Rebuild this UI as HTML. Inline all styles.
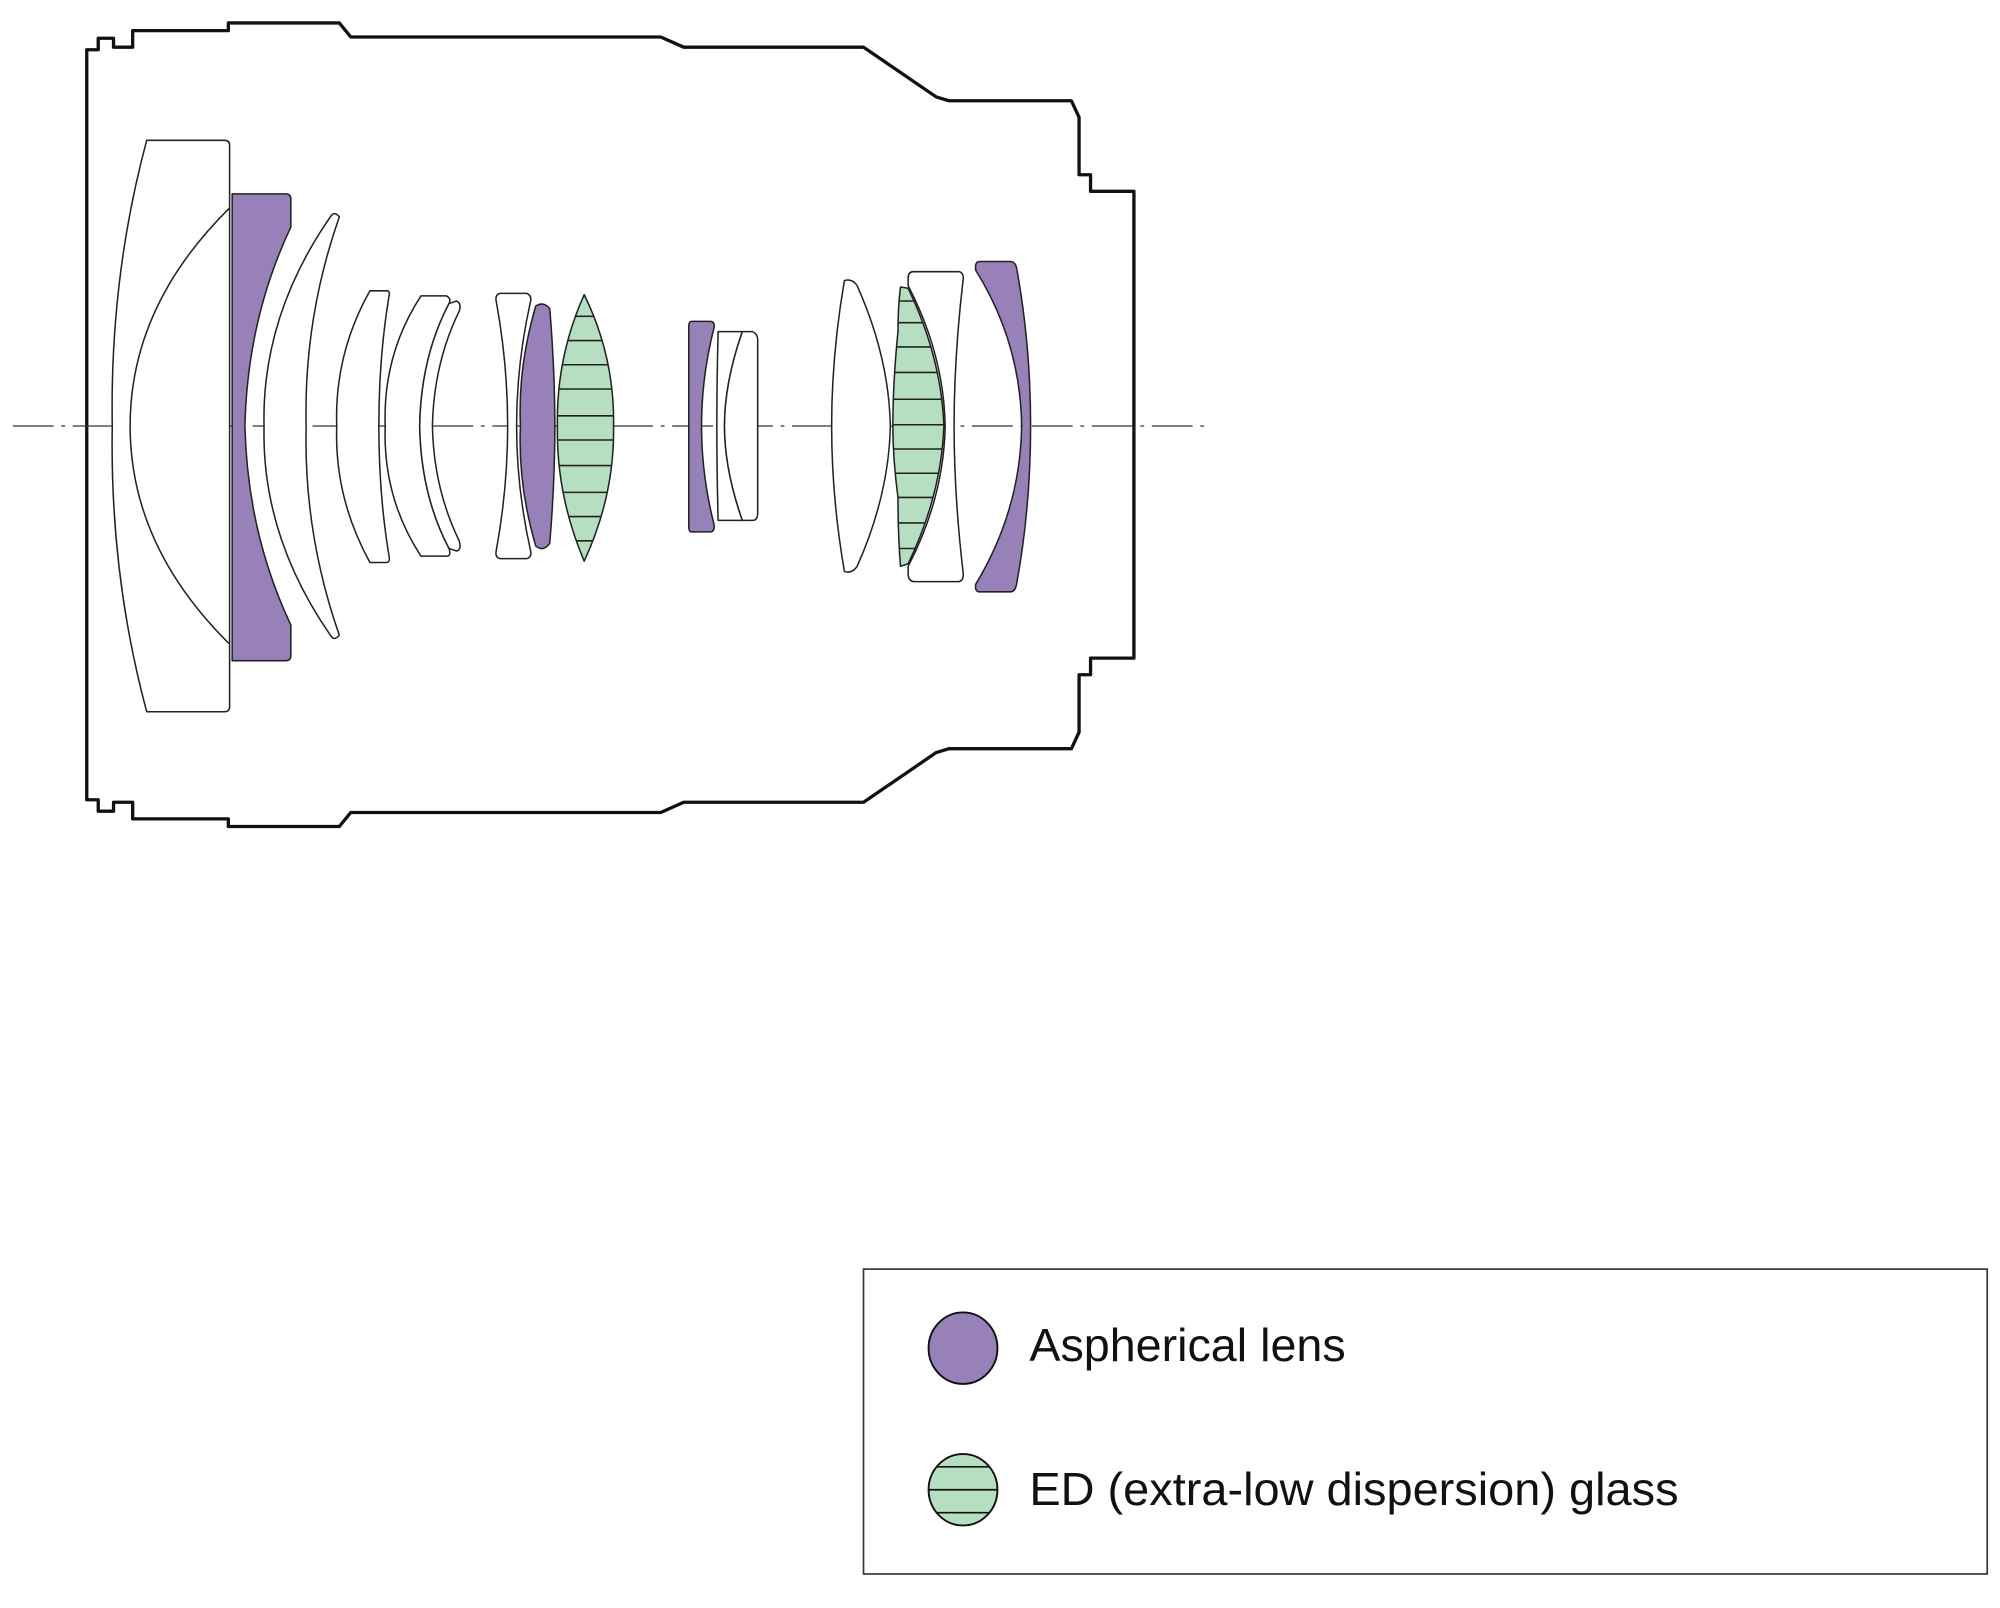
<!DOCTYPE html>
<html><head><meta charset="utf-8"><style>html,body{margin:0;padding:0;background:#fff;}svg{display:block}</style></head>
<body>
<svg width="2000" height="1608" viewBox="0 0 1568 1260.7" xmlns="http://www.w3.org/2000/svg">
<defs>
<clipPath id="g1"><path d="M458,231 Q482,280 481,334 Q482,388 458,440 Q436,388 437,334 Q436,280 458,231 Z"/></clipPath>
<clipPath id="g2"><path d="M706,225 L712,226 Q738,280 740,334 Q738,388 712,442 L706,444 Q704,420 704,390 Q700,360 700,334 Q700,300 704,260 Q704,240 706,225 Z"/></clipPath>
<clipPath id="g3"><ellipse cx="755" cy="1168" rx="27" ry="28"/></clipPath>
</defs>
<g fill="none" stroke="#111" stroke-width="2.6" stroke-linejoin="round">
<path d="M104,24 L179,24 L179,18 L266,18 L275,29 L518,29 L536,37 L677,37 L734,76 L744,79 L840,79 L846,92 L846,137 L855,137 L855,150 L889,150 L889,516 L855,516 L855,529 L846,529 L846,574 L840,587 L744,587 L734,590 L677,629 L536,629 L518,637 L275,637 L266,648 L179,648 L179,642 L104,642 L104,629 L89,629 L89,636 L77,636 L77,627 L68,627 L68,39 L77,39 L77,30 L89,30 L89,37 L104,37 Z"/>
</g>
<line x1="10" y1="334" x2="950" y2="334" stroke="#333" stroke-width="1" stroke-dasharray="32 6 3 6"/>
<g stroke="#222" stroke-width="1.2" stroke-linejoin="round">
<path fill="#fff" d="M115,110 L176,110 Q180,110 180,114 L180,554 Q180,558 176,558 L115,558 Q86,450 88,334 Q86,218 115,110 Z"/>
<path fill="none" d="M180,163 Q102,240 102,334 Q102,428 180,505"/>
<path fill="#9880b8" d="M182,152 L224,152 Q228,152 228,156 L228,178 Q194,250 192,334 Q194,418 228,490 L228,514 Q228,518 224,518 L182,518 Z"/>
<path fill="#fff" d="M259,170 Q262,165 266,170 Q238,250 240,334 Q238,418 266,498 Q262,503 259,498 Q205,420 207,334 Q205,248 259,170 Z"/>
<path fill="#fff" d="M290,228 L303,228 Q306,228 305,232 Q297,280 297,334 Q297,388 305,436 Q306,441 303,441 L290,441 Q262,390 264,334 Q262,278 290,228 Z"/>
<path fill="#fff" d="M330,232 L350,232 Q354,234 352,238 Q330,280 329,334 Q330,388 352,430 Q354,436 350,436 L330,436 Q300,390 302,334 Q300,278 330,232 Z"/>
<path fill="#fff" d="M352,238 L358,236 Q362,238 360,244 Q340,285 339,334 Q340,383 360,424 Q362,431 358,432 L352,430 Q330,388 329,334 Q330,280 352,238 Z"/>
<path fill="#fff" d="M392,230 L413,230 Q417,232 416,236 Q405,285 405,334 Q405,383 416,432 Q417,437 413,438 L392,438 Q388,437 389,432 Q398,383 398,334 Q398,285 389,236 Q388,231 392,230 Z"/>
<path fill="#9880b8" d="M420,240 Q426,236 431,242 Q435,290 435,334 Q435,378 431,426 Q426,433 420,428 Q406,380 408,334 Q406,288 420,240 Z"/>
<path fill="#b5dfc0" d="M458,231 Q482,280 481,334 Q482,388 458,440 Q436,388 437,334 Q436,280 458,231 Z"/>
<g clip-path="url(#g1)" stroke="#222"><path d="M430,248H490M430,267H490M430,286H490M430,305H490M430,326H490M430,345H490M430,365H490M430,386H490M430,405H490M430,424H490"/></g>
<path fill="#9880b8" d="M542,252 L557,252 Q560,252 560,256 Q550,295 550,334 Q550,373 560,412 Q560,417 557,417 L542,417 Q540,417 540,413 L540,256 Q540,252 542,252 Z"/>
<path fill="#fff" d="M563,260 L582,260 Q568,300 568,334 Q568,368 582,408 L563,408 Q562,370 562,334 Q562,298 563,260 Z"/>
<path fill="#fff" d="M582,260 L590,260 Q594,262 594,266 L594,402 Q594,408 590,408 L582,408 Q568,368 568,334 Q568,300 582,260 Z"/>
<path fill="#fff" d="M662,220 Q668,218 672,224 Q697,280 698,334 Q697,388 672,444 Q668,450 662,448 Q652,390 652,334 Q652,278 662,220 Z"/>
<path fill="#b5dfc0" d="M706,225 L712,226 Q738,280 740,334 Q738,388 712,442 L706,444 Q704,420 704,390 Q700,360 700,334 Q700,300 704,260 Q704,240 706,225 Z"/>
<g clip-path="url(#g2)" stroke="#222"><path d="M695,236H745M695,253H745M695,272H745M695,292H745M695,313H745M695,333H745M695,352H745M695,371H745M695,390H745M695,410H745M695,430H745"/></g>
<path fill="#fff" d="M716,213 L752,213 Q756,214 755,220 Q748,280 748,334 Q748,388 755,448 Q756,455 752,456 L716,456 Q712,455 712,450 L712,444 Q740,390 741,334 Q740,278 712,224 L712,218 Q712,213 716,213 Z"/>
<path fill="#9880b8" d="M768,205 L792,205 Q796,205 797,210 Q808,270 808,334 Q808,398 797,458 Q796,464 792,464 L768,464 Q764,464 765,458 Q800,400 801,334 Q800,268 765,212 Q764,205 768,205 Z"/>
</g>
<rect x="677" y="995" width="881" height="239" fill="#fff" stroke="#333" stroke-width="1.3"/>
<ellipse cx="755" cy="1057" rx="27" ry="28" fill="#9880b8" stroke="#111" stroke-width="1.5"/>
<ellipse cx="755" cy="1168" rx="27" ry="28" fill="#b5dfc0"/>
<g clip-path="url(#g3)" stroke="#111" stroke-width="1.3"><path d="M720,1150H790M720,1168H790M720,1186H790"/></g>
<ellipse cx="755" cy="1168" rx="27" ry="28" fill="none" stroke="#111" stroke-width="1.5"/>
<text x="807" y="1067" font-family="Liberation Sans, sans-serif" font-size="36" fill="#111" textLength="248" lengthAdjust="spacingAndGlyphs">Aspherical lens</text>
<text x="807" y="1180" font-family="Liberation Sans, sans-serif" font-size="36" fill="#111" textLength="509" lengthAdjust="spacingAndGlyphs">ED (extra-low dispersion) glass</text>
</svg>
</body></html>
